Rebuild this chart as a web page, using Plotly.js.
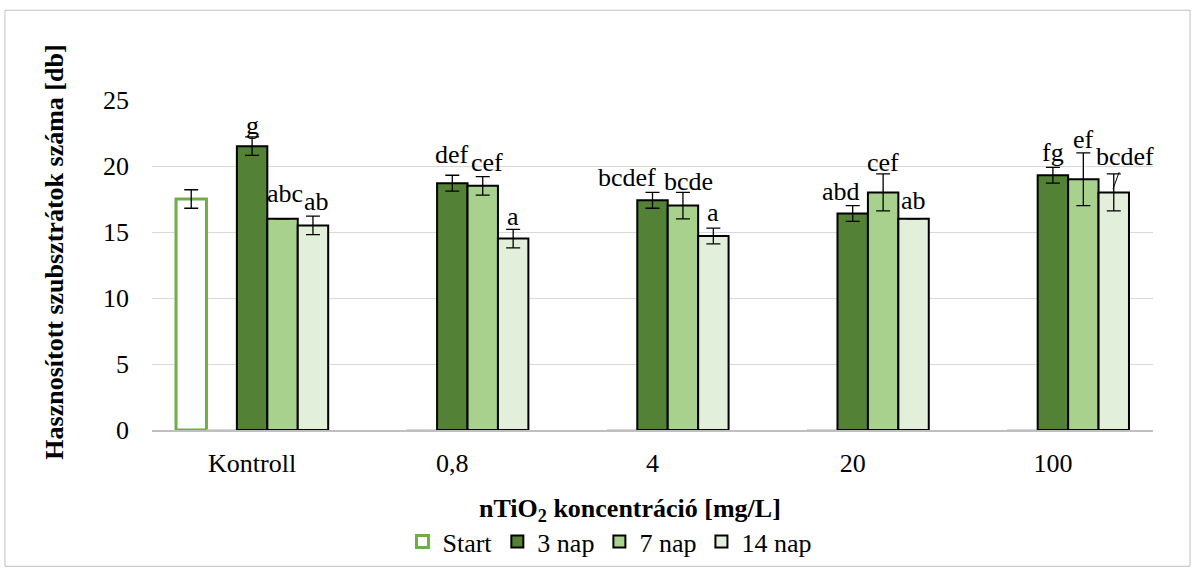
<!DOCTYPE html>
<html>
<head>
<meta charset="utf-8">
<script src="https://cdn.plot.ly/plotly-3.0.1.min.js"></script>
<style>
html,body{margin:0;padding:0;background:#fff;}
#chart{width:1196px;height:577px;}
</style>
</head>
<body>
<div id="chart"></div>
<script>
// ---- data ----
const categories = ['Kontroll', '0,8', '4', '20', '100'];
const seriesNames = ['Start', '3 nap', '7 nap', '14 nap'];

const startValues = [17.5, null, null, null, null];
const startErrors = [0.7, null, null, null, null];

const nap3Values = [21.5, 18.7, 17.4, 16.4, 19.3];
const nap3Errors = [0.7, 0.6, 0.6, 0.6, 0.6];

const nap7Values = [16.0, 18.5, 17.0, 18.0, 19.0];
const nap7Errors = [null, 0.7, 1.0, 1.4, 2.0];

const nap14Values = [15.5, 14.5, 14.7, 16.0, 18.0];
const nap14Errors = [0.7, 0.7, 0.6, null, 1.4];

const emptyValues = [0, 0, 0, 0, 0];

const nap3Labels = ['g', 'def', 'bcdef', 'abd', 'fg'];
const nap7Labels = ['abc', 'cef', 'bcde', 'cef', 'ef'];
const nap14Labels = ['ab', 'a', 'a', 'ab', 'bcdef'];

// ---- styling / layout helpers ----
const FONT = 'Liberation Serif';
const errStyle = {type: 'data', visible: true, color: '#000', thickness: 1.3, width: 7};

function bar(name, y, err, fill, lineColor, lineWidth, showlegend) {
  const t = {
    type: 'bar', name: name, x: categories, y: y,
    marker: {color: fill, line: {color: lineColor, width: lineWidth}},
    showlegend: showlegend, hoverinfo: 'skip'
  };
  if (err) t.error_y = Object.assign({array: err}, errStyle);
  return t;
}

const traces = [
  bar(seriesNames[0], startValues, startErrors, '#ffffff', '#70ad47', 3, true),
  bar(' ', emptyValues, null, '#d0d0d0', '#c8c8c8', 1, false),
  bar(seriesNames[1], nap3Values, nap3Errors, '#538135', '#000000', 2, true),
  bar(seriesNames[2], nap7Values, nap7Errors, '#a9d18e', '#000000', 2, true),
  bar(seriesNames[3], nap14Values, nap14Errors, '#e2efda', '#000000', 2, true)
];

// label placement (layout only): slot offset per series, fine x nudges, label heights
const slotOffset = [0, 0.152, 0.304];
const labelNudgeX = [
  [0, 0.011, 0.019],
  [-0.004, 0.023, 0],
  [-0.127, 0.03, 0],
  [-0.06, 0, 0],
  [0, 0, 0.056]
];
const labelY = [
  [23.1, 17.9, 17.3],
  [20.9, 20.3, 16.2],
  [19.1, 18.8, 16.5],
  [18.1, 20.3, 17.4],
  [21.0, 22.0, 20.7]
];

const labelSets = [nap3Labels, nap7Labels, nap14Labels];
const annotations = [];
categories.forEach((c, i) => {
  labelSets.forEach((set, s) => {
    const isLeader = (i === 4 && s === 2);
    if (isLeader) {
      annotations.push({
        x: i + slotOffset[s] - 0.004, y: 18.25, xref: 'x', yref: 'y',
        text: set[i], showarrow: true, arrowhead: 0, arrowwidth: 1, arrowcolor: '#000',
        ax: 12, ay: -33, standoff: 0,
        font: {family: FONT, size: 26, color: '#000'}
      });
    } else {
      annotations.push({
        x: i + slotOffset[s] + labelNudgeX[i][s], y: labelY[i][s], xref: 'x', yref: 'y',
        text: set[i], showarrow: false, xanchor: 'center', yanchor: 'middle',
        font: {family: FONT, size: 26, color: '#000'}
      });
    }
  });
});

annotations.push({
  text: '<b>nTiO<sub>2</sub> koncentráció [mg/L]</b>',
  xref: 'paper', yref: 'paper', x: 0.4775, y: -0.243, xanchor: 'center', yanchor: 'middle',
  showarrow: false, font: {family: FONT, size: 26, color: '#000'}
});
annotations.push({
  text: '<b>Hasznosított szubsztrátok száma [db]</b>',
  xref: 'paper', yref: 'paper', x: -0.097, y: 0.54, xanchor: 'center', yanchor: 'middle',
  textangle: -90, showarrow: false, font: {family: FONT, size: 26, color: '#000'}
});

const layout = {
  width: 1196, height: 577,
  margin: {l: 152, r: 43, t: 100, b: 143, pad: 0},
  paper_bgcolor: '#ffffff', plot_bgcolor: '#ffffff',
  font: {family: FONT, size: 26, color: '#000'},
  barmode: 'group', bargap: 0.24, bargroupgap: 0,
  xaxis: {
    type: 'category', range: [-0.5, 4.5], showgrid: false, zeroline: false,
    showline: true, linecolor: '#bfbfbf', linewidth: 1.5,
    ticks: '', ticklabelstandoff: 9,
    tickfont: {family: FONT, size: 26, color: '#000'}, fixedrange: true
  },
  yaxis: {
    range: [0, 25], dtick: 5, tick0: 0, showgrid: true, gridcolor: '#d9d9d9', gridwidth: 1,
    zeroline: false, showline: false, ticks: '', ticklabelstandoff: 22,
    tickfont: {family: FONT, size: 26, color: '#000'}, fixedrange: true
  },
  legend: {
    orientation: 'h', x: 0.4575, xanchor: 'center', y: -0.338, yanchor: 'middle',
    font: {family: FONT, size: 26, color: '#000'}, itemwidth: 30,
    traceorder: 'normal', bgcolor: 'rgba(0,0,0,0)'
  },
  annotations: annotations,
  shapes: [{
    type: 'rect', xref: 'paper', yref: 'paper',
    x0: -0.1469, x1: 1.037, y0: -0.413, y1: 1.272,
    line: {color: '#bfbfbf', width: 1}, fillcolor: 'rgba(0,0,0,0)', layer: 'below'
  }],
  showlegend: true
};

Plotly.newPlot('chart', traces, layout, {staticPlot: true, displayModeBar: false});
</script>
</body>
</html>
